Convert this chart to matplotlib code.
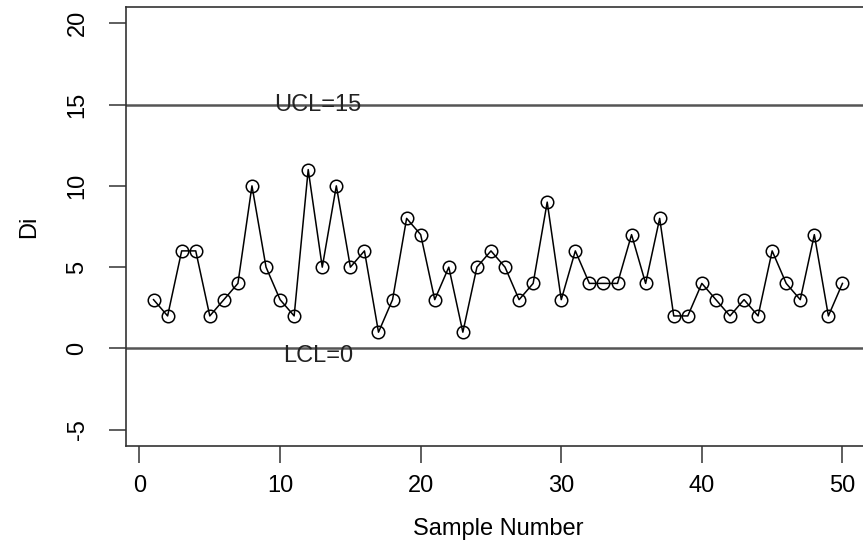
import numpy as np
import matplotlib
matplotlib.use("Agg")
import matplotlib.pyplot as plt

# Data
sample = list(range(1, 51))
di = [3, 2, 6, 6, 2, 3, 4, 10, 5, 3,
      2, 11, 5, 10, 5, 6, 1, 3, 8, 7,
      3, 5, 1, 5, 6, 5, 3, 4, 9, 3,
      6, 4, 4, 4, 7, 4, 8, 2, 2, 4,
      3, 2, 3, 2, 6, 4, 3, 7, 2, 4]
ucl = 15
lcl = 0
x_ticks = [0, 10, 20, 30, 40, 50]
y_ticks = [-5, 0, 5, 10, 15, 20]

plt.rcParams['font.family'] = ['Liberation Sans', 'DejaVu Sans']

fig = plt.figure(figsize=(8.63, 5.42), dpi=100)
# axes run a little past the right edge, like the cropped original
ax = fig.add_axes([126 / 863, 96 / 542, 744 / 863, 439 / 542])

ax.axhline(ucl, color="#555555", lw=1.8, zorder=1)
ax.axhline(lcl, color="#555555", lw=1.8, zorder=1)
ax.text(12.7, ucl, "UCL=%d" % ucl, ha="center", va="center", fontsize=17, color="#222222")
ax.text(12.7, lcl - 0.45, "LCL=%d" % lcl, ha="center", va="center", fontsize=17, color="#222222")

ax.plot(sample, di, color="black", lw=1.1, marker="o", ms=9, mfc="none",
        mec="black", mew=1.1, zorder=3)

ax.set_xlim(-0.96, 51.96)
ax.set_ylim(-6, 21)
ax.set_xticks(x_ticks)
ax.set_yticks(y_ticks)
ax.set_yticklabels([str(v) for v in y_ticks], rotation=90, va="center")
ax.tick_params(axis="both", labelsize=17, length=12, width=1.1, color="#333333")
ax.tick_params(axis="x", pad=9)
ax.tick_params(axis="y", pad=15)

for side in ["left", "bottom", "top"]:
    ax.spines[side].set_linewidth(1.2)
    ax.spines[side].set_color("#333333")
ax.spines["right"].set_visible(False)

ax.set_xlabel("Sample Number", fontsize=17, labelpad=15)
ax.set_ylabel("Di", fontsize=17, labelpad=19)

fig.savefig("out.png", dpi=100)
